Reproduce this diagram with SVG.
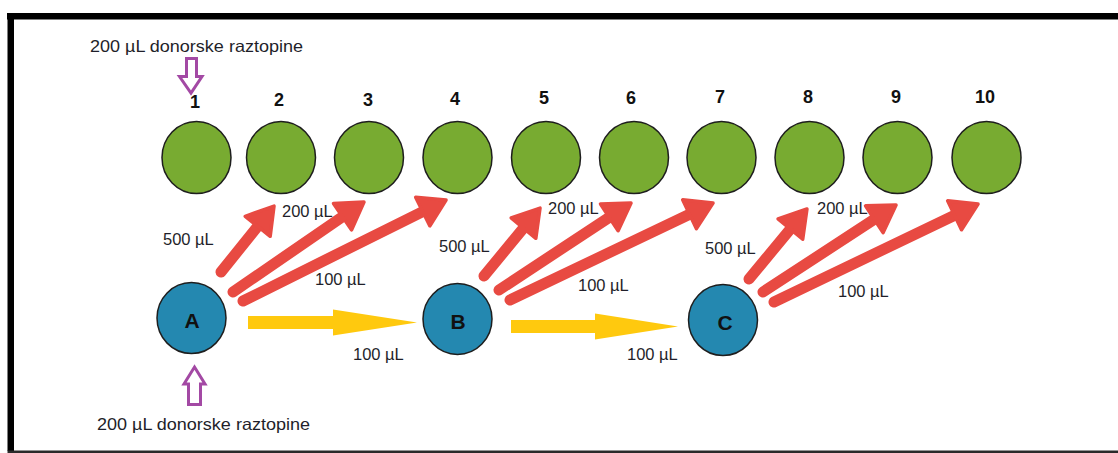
<svg xmlns="http://www.w3.org/2000/svg" width="1118" height="453" viewBox="0 0 1118 453">
  <style>
    .well { fill: #78ab31; stroke: #1e1e1e; stroke-width: 1.5; }
    .src { fill: #2488b0; stroke: #1e1e1e; stroke-width: 1.5; }
    .num { font-family: "Liberation Sans", Arial, sans-serif; font-weight: bold; font-size: 18px; fill: #111; text-anchor: middle; }
    .letter { font-family: "Liberation Sans", Arial, sans-serif; font-weight: bold; font-size: 21px; fill: #111; text-anchor: middle; }
    .vol { font-family: "Liberation Sans", Arial, sans-serif; font-size: 16.5px; fill: #1f1f2a; }
    .red { stroke: #e84a42; stroke-width: 11; stroke-linecap: round; fill: none; marker-end: url(#redHead); }
    .yellow { fill: #ffc90e; }
    .purple { fill: #ffffff; stroke: #a349a4; stroke-width: 3; stroke-linejoin: miter; }
  </style>
  <defs>
    <marker id="redHead" markerUnits="userSpaceOnUse" orient="auto" refX="0" refY="0" markerWidth="60" markerHeight="60" viewBox="-30 -30 60 60" overflow="visible">
      <path d="M-14,-16 L12,0 L-14,16 Z" fill="#e84a42" stroke="#e84a42" stroke-width="3.5" stroke-linejoin="round"/>
    </marker>
  </defs>

  <!-- frame -->
  <rect x="0" y="0" width="1118" height="453" fill="#ffffff"/>
  <rect x="7" y="13" width="1111" height="6.5" fill="#000"/>
  <rect x="7.5" y="13" width="6.5" height="438" fill="#000"/>
  <rect x="7.5" y="450.5" width="1110.5" height="2.5" fill="#2a2a2a"/>

  <!-- connectors -->
  <g id="connectors">
    <!-- from A -->
    <line class="red" x1="221" y1="272" x2="266.5" y2="215.4"/>
    <line class="red" x1="233" y1="292" x2="354.1" y2="208.8"/>
    <line class="red" x1="243" y1="301" x2="435.3" y2="205.3"/>
    <!-- from B -->
    <line class="red" x1="484" y1="276" x2="532.4" y2="217.3"/>
    <line class="red" x1="499" y1="290" x2="621" y2="209.6"/>
    <line class="red" x1="510" y1="300" x2="702.2" y2="208.2"/>
    <!-- from C -->
    <line class="red" x1="749" y1="279" x2="799.3" y2="218.2"/>
    <line class="red" x1="763" y1="292" x2="886" y2="211.6"/>
    <line class="red" x1="774" y1="302" x2="967.2" y2="209.2"/>
    <!-- transfers between source vessels -->
    <path class="yellow" d="M248,316 L333,316 L333,309.5 L417,322.5 L333,335.5 L333,329 L248,329 Z"/>
    <path class="yellow" d="M511,320 L595,320 L595,313.5 L678,326.5 L595,339.5 L595,333 L511,333 Z"/>
    <!-- donor solution inputs -->
    <path class="purple" d="M186.5,58.5 L196.5,58.5 L196.5,76.5 L202,76.5 L191,93 L179.5,76.5 L186.5,76.5 Z"/>
    <path class="purple" d="M194.5,367 L205,384 L200.5,384 L200.5,404.5 L188.5,404.5 L188.5,384 L184,384 Z"/>
  </g>

  <!-- volume labels -->
  <g id="labels">
    <text class="vol" x="90" y="52" textLength="213" lengthAdjust="spacingAndGlyphs">200 µL donorske raztopine</text>
    <text class="vol" x="97" y="430" textLength="213" lengthAdjust="spacingAndGlyphs">200 µL donorske raztopine</text>
    <text class="vol" x="163" y="245">500 µL</text>
    <text class="vol" x="282" y="217">200 µL</text>
    <text class="vol" x="315" y="285">100 µL</text>
    <text class="vol" x="353" y="360">100 µL</text>
    <text class="vol" x="439" y="252">500 µL</text>
    <text class="vol" x="548" y="214">200 µL</text>
    <text class="vol" x="578" y="291">100 µL</text>
    <text class="vol" x="627" y="360">100 µL</text>
    <text class="vol" x="705" y="254">500 µL</text>
    <text class="vol" x="817" y="214">200 µL</text>
    <text class="vol" x="838" y="297">100 µL</text>
  </g>

  <!-- receiving wells -->
  <g id="well-1"><ellipse class="well" cx="196.5" cy="157.5" rx="34.5" ry="36"/><text class="num" x="195" y="108">1</text></g>
  <g id="well-2"><ellipse class="well" cx="281" cy="157.5" rx="34.5" ry="36"/><text class="num" x="279" y="106">2</text></g>
  <g id="well-3"><ellipse class="well" cx="369" cy="157.5" rx="34.5" ry="36"/><text class="num" x="368" y="106">3</text></g>
  <g id="well-4"><ellipse class="well" cx="457.5" cy="157.5" rx="34.5" ry="36"/><text class="num" x="455" y="105">4</text></g>
  <g id="well-5"><ellipse class="well" cx="546" cy="157.5" rx="34.5" ry="36"/><text class="num" x="544" y="104">5</text></g>
  <g id="well-6"><ellipse class="well" cx="634" cy="157.5" rx="34.5" ry="36"/><text class="num" x="631" y="104">6</text></g>
  <g id="well-7"><ellipse class="well" cx="721.5" cy="157.5" rx="34.5" ry="36"/><text class="num" x="720" y="103">7</text></g>
  <g id="well-8"><ellipse class="well" cx="809.5" cy="157.5" rx="34.5" ry="36"/><text class="num" x="808" y="103">8</text></g>
  <g id="well-9"><ellipse class="well" cx="897.5" cy="157.5" rx="34.5" ry="36"/><text class="num" x="896" y="103">9</text></g>
  <g id="well-10"><ellipse class="well" cx="986.5" cy="157.5" rx="34.5" ry="36"/><text class="num" x="985" y="103">10</text></g>

  <!-- source vessels -->
  <g id="source-A"><ellipse class="src" cx="191.5" cy="318" rx="34.5" ry="35.5"/><text class="letter" x="192" y="327.5">A</text></g>
  <g id="source-B"><ellipse class="src" cx="457.5" cy="319" rx="34.5" ry="35.5"/><text class="letter" x="458" y="328.5">B</text></g>
  <g id="source-C"><ellipse class="src" cx="723" cy="320" rx="34.5" ry="35.5"/><text class="letter" x="725" y="329.5">C</text></g>
</svg>
